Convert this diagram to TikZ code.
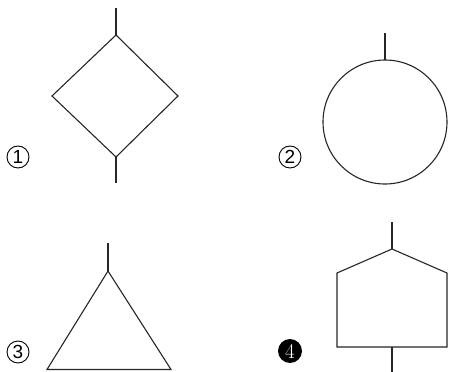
\documentclass[tikz,border=0pt]{standalone}
\usepackage{fontspec}
\newfontfamily\labelfont{Liberation Sans}
\tikzset{
 shape line/.style={line width=1.1pt, black!85, line join=miter},
 num/.style={circle, draw, line width=0.9pt, inner sep=0pt, minimum size=22pt, font=\labelfont\fontsize{19}{19}\selectfont},
 numblack/.style={circle, fill=black, text=white, inner sep=0pt, minimum size=24pt, font=\fontsize{21}{21}\selectfont}
}
\begin{document}
\begin{tikzpicture}[x=1pt,y=-1pt]
\useasboundingbox (0,0) rectangle (453,372);
% labels
\node[num] (n1) at (18,157) {1};
\node[num] (n2) at (290,157) {2};
\node[num] (n3) at (18,352) {3};
\node[numblack] (n4) at (290,351) {4};
% 1: diamond
\draw[shape line] (116,8)--(116,35);
\draw[shape line] (116,35)--(178,96)--(116,157)--(52,96)--cycle;
\draw[shape line] (116,157)--(116,183);
% 2: circle
\draw[shape line] (385,33)--(385,60);
\draw[shape line] (385,122) circle[radius=62];
% 3: triangle
\draw[shape line] (108,243)--(108,271);
\draw[shape line] (108,271)--(171,369.5)--(47,369.5)--cycle;
% 4: house
\draw[shape line] (392,222)--(392,249);
\draw[shape line] (392,249)--(447,273)--(447,347)--(337,347)--(337,273)--cycle;
\draw[shape line] (392,347)--(392,375);
\end{tikzpicture}
\end{document}
